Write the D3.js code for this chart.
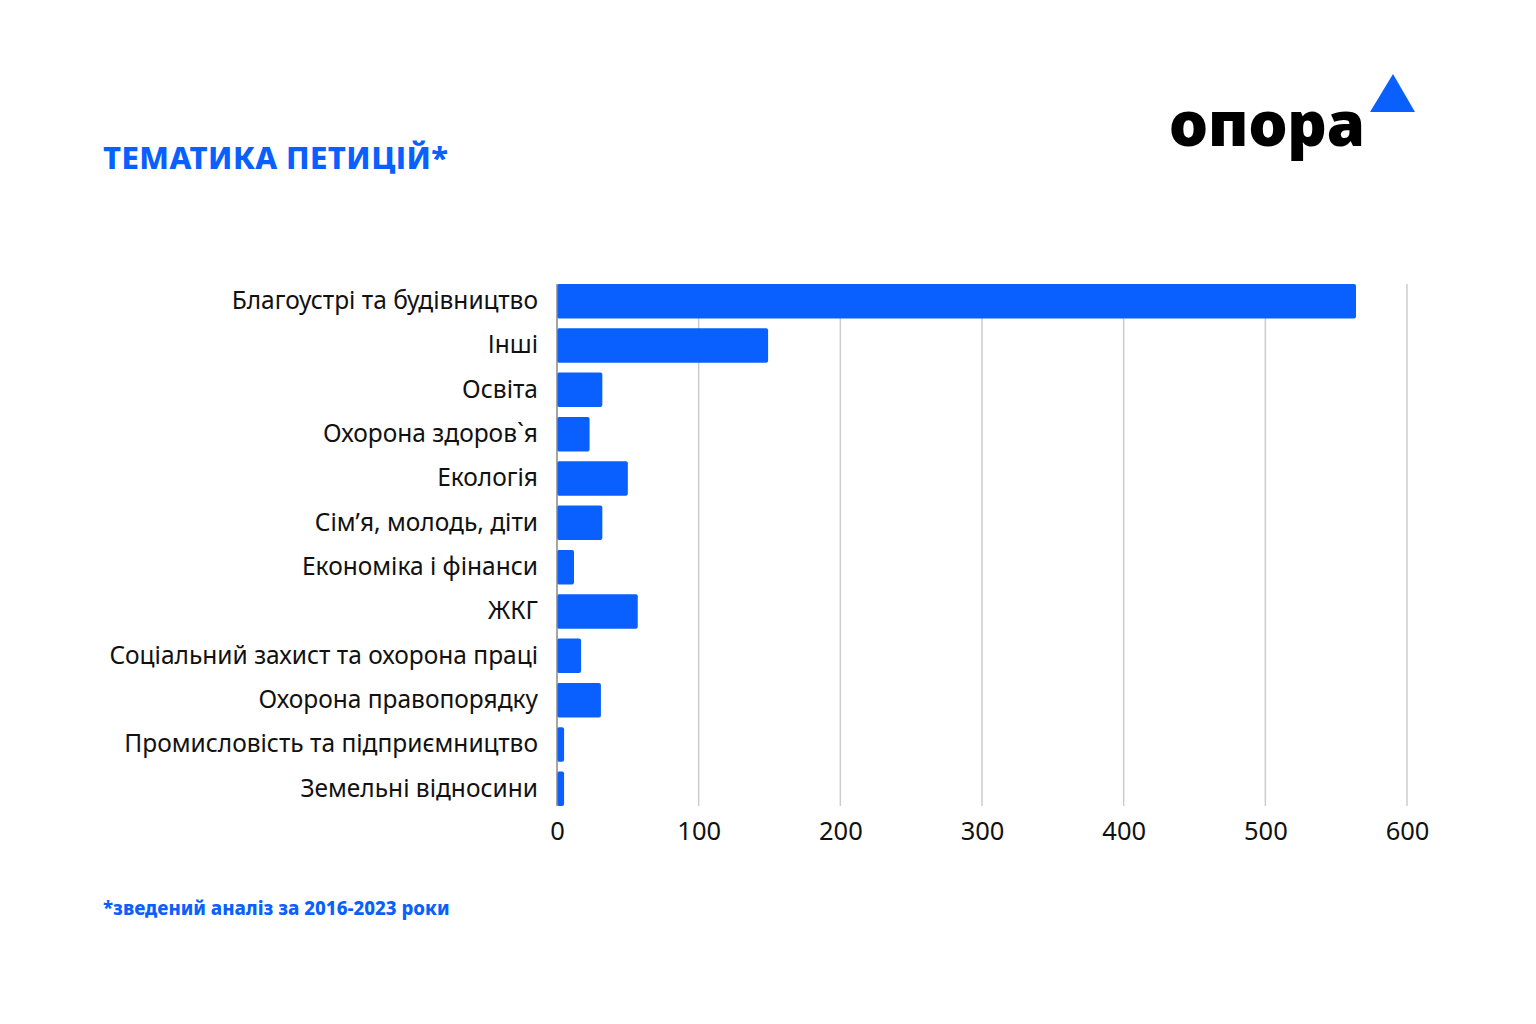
<!DOCTYPE html>
<html lang="uk">
<head>
    <meta charset="UTF-8">
    <title>Тематика петицій</title>
    <style>
        body { margin: 0; background: #fff; }
        svg { display: block; }
    </style>
</head>
<body>
<script src="https://d3js.org/d3.v7.min.js"></script>
<script>
    // data
    var categories = [
        'Благоустрі та будівництво',
        'Інші',
        'Освіта',
        'Охорона здоров`я',
        'Екологія',
        'Сім’я, молодь, діти',
        'Економіка і фінанси',
        'ЖКГ',
        'Соціальний захист та охорона праці',
        'Охорона правопорядку',
        'Промисловість та підприємництво',
        'Земельні відносини'
    ];
    var petitions = [564, 149, 32, 23, 50, 32, 12, 57, 17, 31, 5, 5];
    var xTicks = [0, 100, 200, 300, 400, 500, 600];

    var width = 1536,
        height = 1024,
        blue = '#0a5fff',
        font = "'Noto Sans', sans-serif";

    var svg = d3.select('body').append('svg')
                .attr('width', width)
                .attr('height', height);

    var x = d3.scaleLinear().domain([0, 600]).range([557, 1407]);
    var y = d3.scaleBand().domain(categories).range([279, 811]).paddingInner(0.22).paddingOuter(0.11);

    // title and footnote
    svg.append('text')
       .attr('x', 103).attr('y', 169)
       .attr('font-family', font).attr('font-weight', 800)
       .attr('font-size', 31).attr('letter-spacing', 0.4).attr('fill', blue)
       .text('ТЕМАТИКА ПЕТИЦІЙ*');

    svg.append('text')
       .attr('x', 103).attr('y', 915)
       .attr('font-family', font).attr('font-weight', 800)
       .attr('font-size', 18.7).attr('fill', blue)
       .text('*зведений аналіз за 2016-2023 роки');

    // logo
    var logo = svg.append('g').attr('class', 'logo');
    logo.append('text')
        .attr('x', 1169).attr('y', 146)
        .attr('font-family', font).attr('font-weight', 900)
        .attr('font-size', 62).attr('fill', '#000')
        .attr('textLength', 196).attr('lengthAdjust', 'spacingAndGlyphs')
        .text('опора');
    logo.append('path')
        .attr('d', 'M1393,74 L1415,112 L1370,112 Z')
        .attr('fill', blue);

    // grid
    var yTop = y(categories[0]),
        yBottom = y(categories[categories.length - 1]) + y.bandwidth();

    svg.append('g').attr('class', 'grid')
       .selectAll('line')
       .data(xTicks.slice(1))
       .enter().append('line')
       .attr('x1', function(d) { return x(d); })
       .attr('x2', function(d) { return x(d); })
       .attr('y1', yTop)
       .attr('y2', yBottom)
       .attr('stroke', '#cccccc')
       .attr('stroke-width', 1.5);

    // bars
    svg.append('g').attr('class', 'bars')
       .selectAll('rect')
       .data(petitions)
       .enter().append('rect')
       .attr('x', x(0))
       .attr('y', function(d, i) { return y(categories[i]); })
       .attr('width', function(d) { return x(d) - x(0); })
       .attr('height', y.bandwidth())
       .attr('rx', 2)
       .attr('fill', blue);

    // zero line
    svg.append('line')
       .attr('x1', x(0)).attr('x2', x(0))
       .attr('y1', yTop).attr('y2', yBottom)
       .attr('stroke', '#888').attr('stroke-width', 1.5);

    // x axis
    var xAxis = d3.axisBottom(x).tickValues(xTicks).tickSize(0).tickPadding(0);
    var gx = svg.append('g')
       .attr('class', 'x-axis')
       .attr('transform', 'translate(0,' + (yBottom + 16) + ')')
       .call(xAxis);
    gx.select('.domain').remove();
    gx.selectAll('text')
      .attr('font-family', font).attr('font-size', 25.5)
      .attr('fill', '#111').attr('dy', '0.72em');

    // y axis labels
    var yAxis = d3.axisLeft(y).tickSize(0).tickPadding(19);
    var gy = svg.append('g')
       .attr('class', 'y-axis')
       .attr('transform', 'translate(' + x(0) + ',0)')
       .call(yAxis);
    gy.select('.domain').remove();
    gy.selectAll('text')
      .attr('font-family', font).attr('font-size', 24.5)
      .attr('fill', '#111');
</script>
</body>
</html>
